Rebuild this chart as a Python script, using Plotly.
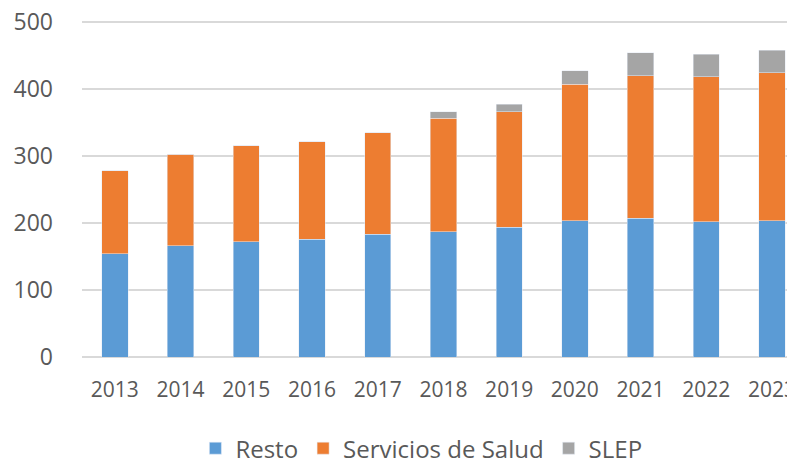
import plotly.graph_objects as go

years = ["2013", "2014", "2015", "2016", "2017", "2018", "2019", "2020", "2021", "2022", "2023"]
resto = [154, 166, 172, 176, 183, 187, 194, 203, 207, 202, 203]
servicios_salud = [124, 137, 143, 145, 152, 169, 172, 204, 213, 216, 221]
slep = [0, 0, 0, 0, 0, 10, 11, 20, 34, 34, 34]
y_ticks = [0, 100, 200, 300, 400, 500]

fig = go.Figure()
fig.add_trace(go.Bar(x=years, y=resto, name="Resto", marker_color="#5B9BD5"))
fig.add_trace(go.Bar(x=years, y=servicios_salud, name="Servicios de Salud", marker_color="#ED7D31"))
fig.add_trace(go.Bar(x=years, y=slep, name="SLEP", marker_color="#A5A5A5"))

# page body has an 8px default margin, so the figure is sized/offset to compensate
fig.update_layout(
    barmode="stack",
    bargap=0.6,
    width=787,
    height=458,
    margin=dict(l=74, r=0, t=12, b=109, autoexpand=False),
    paper_bgcolor="white",
    plot_bgcolor="white",
    font=dict(family="Open Sans", color="#595959"),
    showlegend=True,
    legend=dict(
        orientation="h",
        x=0.476,
        xanchor="center",
        y=-0.205,
        yanchor="top",
        font=dict(size=24, color="#595959"),
        itemwidth=30,
        traceorder="normal",
    ),
)
fig.update_xaxes(
    type="category",
    range=[-0.5, 10.35],
    automargin=False,
    showgrid=False,
    showline=False,
    zeroline=False,
    ticks="",
    tickfont=dict(size=21, color="#595959"),
    ticklabelstandoff=18,
    ticklabeloverflow="allow",
)
fig.update_yaxes(
    range=[0, 503],
    tickvals=y_ticks,
    automargin=False,
    showgrid=True,
    gridcolor="#D9D9D9",
    gridwidth=1.5,
    zeroline=True,
    zerolinecolor="#D9D9D9",
    zerolinewidth=1.5,
    showline=False,
    ticks="",
    tickfont=dict(size=23, color="#595959"),
    ticklabelstandoff=28,
    ticklabeloverflow="allow",
)

fig.write_html("out.html")
